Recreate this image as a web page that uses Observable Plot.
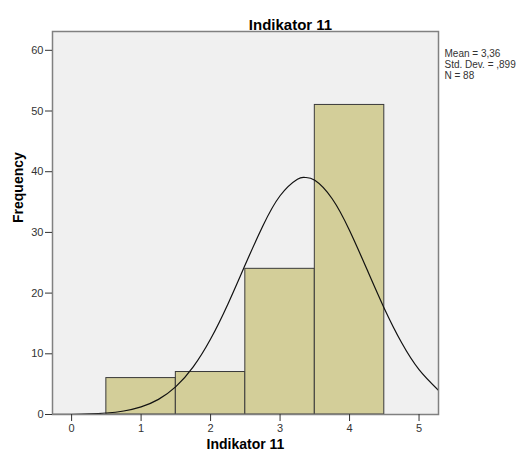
<!DOCTYPE html>
<html>
<head>
<meta charset="utf-8">
<script src="https://cdn.jsdelivr.net/npm/d3@7"></script>
<script src="https://cdn.jsdelivr.net/npm/@observablehq/plot@0.6"></script>
<style>
  body { margin: 0; background: #fff; }
  svg { font-family: Arial, "Liberation Sans", sans-serif; }
</style>
</head>
<body>
<div id="chart"></div>
<script>
const title = "Indikator 11";
const xLabel = "Indikator 11";
const yLabel = "Frequency";
const binStart = [0.5, 1.5, 2.5, 3.5];
const binEnd = [1.5, 2.5, 3.5, 4.5];
const counts = [6, 7, 24, 51];
const xTicks = [0, 1, 2, 3, 4, 5];
const yTicks = [0, 10, 20, 30, 40, 50, 60];
const statsLines = ["Mean = 3,36", "Std. Dev. = ,899", "N = 88"];
// normal curve values
const curveX = [-0.27, 0, 0.25, 0.5, 0.75, 1, 1.25, 1.5, 1.75, 2, 2.25, 2.5, 2.75, 3, 3.25, 3.36, 3.5, 3.75, 4, 4.25, 4.5, 4.75, 5, 5.28];
const curveY = [0.01, 0.04, 0.1, 0.25, 0.58, 1.25, 2.49, 4.59, 7.85, 12.44, 18.22, 24.71, 31.02, 36.04, 38.76, 39.05, 38.58, 35.54, 30.31, 23.92, 17.48, 11.82, 7.4, 3.99];

const bars = counts.map((c, i) => ({x1: binStart[i], x2: binEnd[i], y: c}));
const curve = curveX.map((x, i) => ({x, y: curveY[i]}));

const chart = Plot.plot({
  width: 519,
  height: 454,
  marginLeft: 52,
  marginRight: 81,
  marginTop: 31,
  marginBottom: 40,
  style: {fontFamily: "Arial, 'Liberation Sans', sans-serif", fontSize: "11px", color: "#333", background: "#fff"},
  x: {domain: [-0.275, 5.28], ticks: xTicks, label: null},
  y: {domain: [0, 63.1], ticks: yTicks, label: null},
  marks: [
    Plot.frame({fill: "#f0f0f0", stroke: "none"}),
    Plot.rectY(bars, {x1: "x1", x2: "x2", y: "y", fill: "#d3ce99", stroke: "#3a3a3a", strokeWidth: 1}),
    Plot.line(curve, {x: "x", y: "y", curve: "natural", stroke: "#111", strokeWidth: 1.2, clip: true}),
    Plot.frame({stroke: "#808080", strokeWidth: 1.5}),
    Plot.axisX({ticks: xTicks, tickFormat: "d", tickSize: 7, tickPadding: 3, stroke: "#333", fill: "#333", fontSize: 11, label: null}),
    Plot.axisY({ticks: yTicks, tickFormat: "d", tickSize: 7, tickPadding: 2, stroke: "#333", fill: "#333", fontSize: 11, label: null}),
    Plot.text([title], {frameAnchor: "top", dx: 45, dy: -12.5, fontWeight: "bold", fontSize: 15, fill: "#000"}),
    Plot.text([xLabel], {frameAnchor: "bottom", dy: 34, fontWeight: "bold", fontSize: 14, fill: "#000"}),
    Plot.text([yLabel], {frameAnchor: "left", dx: -34, rotate: -90, fontWeight: "bold", fontSize: 14, fill: "#000"}),
    Plot.text([statsLines.join("\n")], {frameAnchor: "top-right", dx: 6, dy: 18, lineAnchor: "top", lineHeight: 1.08, textAnchor: "start", fontSize: 10, fill: "#333"})
  ]
});

document.getElementById("chart").append(chart);
</script>
</body>
</html>
